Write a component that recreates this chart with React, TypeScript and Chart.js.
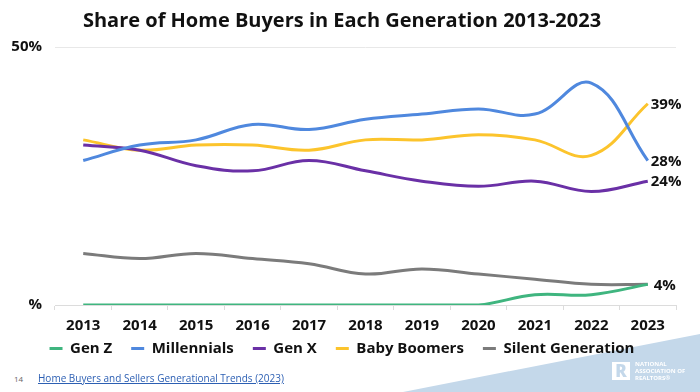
import React, { useEffect, useRef } from "react";
import { Chart, registerables } from "chart.js";

Chart.register(...registerables);

const years = ["2013", "2014", "2015", "2016", "2017", "2018", "2019", "2020", "2021", "2022", "2023"];
const genZ = [0, 0, 0, 0, 0, 0, 0, 0, 2, 2, 4];
const millennials = [28, 31, 32, 35, 34, 36, 37, 38, 37, 43, 28];
const genX = [31, 30, 27, 26, 28, 26, 24, 23, 24, 22, 24];
const babyBoomers = [32, 30, 31, 31, 30, 32, 32, 33, 32, 29, 39];
const silentGen = [10, 9, 10, 9, 8, 6, 7, 6, 5, 4, 4];
const seriesNames = ["Gen Z", "Millennials", "Gen X", "Baby Boomers", "Silent Generation"];
const seriesColors = ["#3fb57f", "#4f88de", "#6a30a6", "#fcc42c", "#7b7b7b"];
const endLabelShown = [true, true, true, true, false];
const yTickLabels: Record<number, string> = { 0: "%", 50: "50%" };

const FONT = "'Open Sans', 'DejaVu Sans', sans-serif";

const endLabelPlugin = {
  id: "endLabels",
  beforeDraw(chart: any) {
    // let the x tick labels overflow their (compact) axis box
    if (chart.scales.x) chart.scales.x._computeLabelArea = () => undefined;
  },
  afterDatasetsDraw(chart: any) {
    const ctx = chart.ctx;
    ctx.save();
    ctx.font = `700 15px ${FONT}`;
    ctx.fillStyle = "#111";
    ctx.textAlign = "left";
    ctx.textBaseline = "middle";
    chart.data.datasets.forEach((ds: any, i: number) => {
      if (!endLabelShown[i]) return;
      const meta = chart.getDatasetMeta(i);
      const pt = meta.data[meta.data.length - 1];
      const v = ds.data[ds.data.length - 1];
      const txt = `${v}%`;
      const dx = txt.length === 2 ? 6 : 3;
      ctx.fillText(txt, pt.x + dx, pt.y + 1);
    });
    ctx.restore();
  },
};

export default function App() {
  const ref = useRef<HTMLCanvasElement | null>(null);
  useEffect(() => {
    if (!ref.current) return;
    const all = [genZ, millennials, genX, babyBoomers, silentGen];
    const chart = new Chart(ref.current, {
      type: "line",
      data: {
        labels: years,
        datasets: all.map((d, i) => ({
          label: seriesNames[i],
          data: d,
          borderColor: seriesColors[i],
          backgroundColor: seriesColors[i],
          borderWidth: 3,
          pointRadius: 0,
          tension: 0.4,
          fill: false,
        })),
      },
      options: {
        animation: false,
        responsive: false,
        maintainAspectRatio: false,
        layout: { padding: { left: 8, right: 24, top: 0, bottom: 0 } },
        plugins: {
          title: {
            display: true,
            text: "Share of Home Buyers in Each Generation 2013-2023",
            color: "#111",
            font: { family: FONT, size: 20, weight: "700" },
            padding: { top: 9, bottom: 14 },
          },
          legend: {
            position: "bottom",
            labels: {
              usePointStyle: true,
              pointStyle: "line",
              pointStyleWidth: 13,
              color: "#111",
              font: { family: FONT, size: 15, weight: "700" },
              padding: 19,
            },
          },
          tooltip: { enabled: false },
        },
        scales: {
          x: {
            offset: true,
            grid: {
              offset: true,
              drawOnChartArea: false,
              drawTicks: true,
              tickLength: 5,
              color: "#dcdcdc",
            },
            border: { display: true, color: "#dcdcdc" },
            ticks: {
              color: "#111",
              font: { family: FONT, size: 15, weight: "700" },
              padding: 7,
              maxRotation: 0,
            },
            afterFit: (s: any) => {
              s.height = 17;
            },
          },
          y: {
            min: 0,
            max: 50,
            grid: { color: "#e8e8e8", drawTicks: false },
            border: { display: false },
            ticks: {
              stepSize: 50,
              color: "#111",
              font: { family: FONT, size: 15, weight: "700" },
              padding: 13,
              callback: (v: any) => yTickLabels[v as number] ?? "",
            },
            afterFit: (s: any) => {
              s.width = 47;
            },
          },
        },
      },
      plugins: [endLabelPlugin],
    });
    return () => chart.destroy();
  }, []);

  return (
    <div style={{ position: "fixed", left: 0, top: 0, width: 700, height: 392, background: "#fff", overflow: "hidden" }}>
      <div
        style={{
          position: "absolute",
          left: 0,
          top: 0,
          width: 700,
          height: 392,
          background: "#c4d8ea",
          clipPath: "polygon(403px 392px, 700px 334px, 700px 392px)",
        }}
      />
      <canvas ref={ref} width={700} height={366} style={{ position: "absolute", left: 0, top: 0, width: 700, height: 366 }} />
      <div style={{ position: "absolute", left: 14, top: 373, fontFamily: FONT, fontSize: 8, color: "#666" }}>14</div>
      <div
        style={{
          position: "absolute",
          left: 38,
          top: 371,
          fontFamily: FONT,
          fontSize: 10,
          color: "#2c5fb3",
          textDecoration: "underline",
          whiteSpace: "nowrap",
        }}
      >
        Home Buyers and Sellers Generational Trends (2023)
      </div>
      <div
        style={{
          position: "absolute",
          left: 612,
          top: 362,
          width: 18,
          height: 18,
          background: "#fff",
          color: "#c4d8ea",
          fontFamily: FONT,
          fontWeight: 800,
          fontSize: 17,
          lineHeight: "18px",
          textAlign: "center",
        }}
      >
        R
      </div>
      <div
        style={{
          position: "absolute",
          left: 635,
          top: 361,
          fontFamily: FONT,
          fontWeight: 700,
          fontSize: 6,
          lineHeight: "7px",
          color: "#fff",
          whiteSpace: "nowrap",
        }}
      >
        NATIONAL
        <br />
        ASSOCIATION OF
        <br />
        REALTORS®
      </div>
    </div>
  );
}
